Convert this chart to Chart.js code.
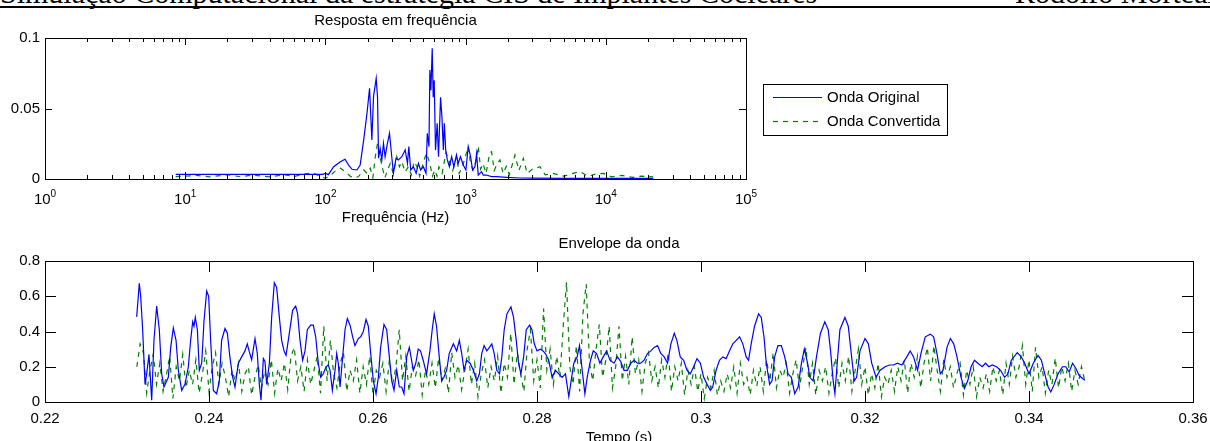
<!DOCTYPE html>
<html>
<head>
<meta charset="utf-8">
<script src="https://cdn.jsdelivr.net/npm/chart.js@4.4.1/dist/chart.umd.min.js"></script>
<style>
  html, body { margin: 0; padding: 0; background: #fff; }
  body { width: 1210px; height: 441px; position: relative; overflow: hidden; }
  #header { position: absolute; left: 0; top: -24px; width: 1210px; height: 40px;
            font-family: "Liberation Serif", "Times New Roman", serif; font-size: 30px; white-space: nowrap; color: #000; }
  #header .right { position: absolute; left: 1015px; top: 0; }
  #rule { position: absolute; left: 0; top: 6px; width: 1210px; height: 2px; background: #000; }
  #freqCanvas { position: absolute; left: 0; top: 0; }
  #envCanvas { position: absolute; left: 0; top: 230px; }
</style>
</head>
<body>
<div id="header"><span>Simulação Computacional da estratégia CIS de Implantes Cocleares</span><span class="right">Rodolfo Morteal</span></div>
<div id="rule"></div>
<canvas id="freqCanvas" width="1210" height="230"></canvas>
<canvas id="envCanvas" width="1210" height="220"></canvas>
<script>
// ---- Resposta em frequência ----
const freqDecades = [1, 10, 100, 1000, 10000, 100000];
const freqYTicks = [0, 0.05, 0.1];

const originalHz = [8.55, 95, 100, 105, 114.6, 127.8, 138, 146.4, 154.8, 168, 177, 187.6, 198, 206.5, 214.5, 220.4,
  230.3, 235.4, 239.4, 245.8, 252.6, 259.5, 266.6, 277, 286.6, 297.4, 305.6, 319, 331, 351, 370.8, 385, 393.6,
  406, 424.6, 443.8, 460.5, 478, 499.6, 522, 533, 548, 556, 565.5, 578, 587.5, 597, 610, 627, 641, 663, 678,
  694, 705, 721, 741, 766, 795, 825, 861, 885, 919, 962, 1005, 1044, 1085, 1121, 1166, 1198, 1231, 1299, 1337,
  1409, 1528, 1657, 1960, 2440, 3000, 5000, 10000, 21800];
const originalAmp = [0.0033, 0.0033, 0.004, 0.0031, 0.0087, 0.0123, 0.014, 0.0099, 0.0069, 0.0064, 0.0099, 0.0277,
  0.0466, 0.0643, 0.0277, 0.0584, 0.0714, 0.058, 0.0147, 0.0217, 0.0135, 0.0253, 0.0158, 0.0253, 0.0324, 0.0158,
  0.004, 0.0147, 0.0135, 0.0158, 0.0206, 0.011, 0.023, 0.0064, 0.0087, 0.004, 0.011, 0.0064, 0.0087, 0.004, 0.0324,
  0.023, 0.0773, 0.063, 0.0927, 0.058, 0.070, 0.0206, 0.0395, 0.0158, 0.058, 0.044, 0.0206, 0.0395, 0.0206, 0.0135,
  0.0087, 0.0158, 0.0087, 0.017, 0.011, 0.0158, 0.0099, 0.0064, 0.023, 0.0158, 0.0064, 0.0087, 0.018, 0.0028,
  0.0052, 0.0028, 0.0028, 0.0017, 0.0017, 0.0012, 0.0007, 0.0006, 0.0005, 0.0004, 0.0004];

const convertedHz = [8.55, 12, 15, 20, 25, 30, 40, 50, 60, 70, 82, 90, 100, 110, 120, 128, 138, 152, 162, 172, 188,
  198, 209, 218, 227, 235, 242, 257, 266, 277, 290, 305, 323, 337, 351, 370, 391, 410, 429, 450, 470, 505, 527, 556,
  580, 604, 625, 645, 680, 724, 774, 810, 861, 900, 950, 1044, 1085, 1130, 1197, 1231, 1280, 1330, 1400, 1485, 1532,
  1600, 1680, 1758, 1850, 1950, 2050, 2150, 2250, 2400, 2580, 2750, 3000, 3390, 3700, 4200, 5000, 5600, 6540, 7500,
  8500, 9600, 11000, 13000, 15500, 18000, 21800];
const convertedAmp = [0.0017, 0.0025, 0.0015, 0.003, 0.0015, 0.0028, 0.0015, 0.003, 0.0018, 0.0035, 0.0045, 0.002,
  0.0005, 0.003, 0.0065, 0.0076, 0.0052, 0.0017, 0.0008, 0.0017, 0.0064, 0.004, 0.0076, 0.001, 0.0158, 0.025, 0.0182,
  0.0064, 0.001, 0.0064, 0.011, 0.004, 0.0158, 0.0087, 0.0123, 0.005, 0.0087, 0.003, 0.0123, 0.0087, 0.002, 0.0135,
  0.0182, 0.011, 0.002, 0.0064, 0.002, 0.0087, 0.004, 0.0186, 0.011, 0.006, 0.0158, 0.004, 0.0087, 0.023, 0.011,
  0.0064, 0.0135, 0.0234, 0.007, 0.011, 0.004, 0.0182, 0.0194, 0.006, 0.011, 0.0135, 0.004, 0.009, 0.003, 0.010,
  0.017, 0.006, 0.0147, 0.004, 0.007, 0.0087, 0.003, 0.004, 0.002, 0.0035, 0.0052, 0.002, 0.0035, 0.004, 0.0015,
  0.0025, 0.0012, 0.002, 0.0015];

// ---- Envelope da onda ----
const envXTicks = [0.22, 0.24, 0.26, 0.28, 0.3, 0.32, 0.34, 0.36];
const envYTicks = [0, 0.2, 0.4, 0.6, 0.8];

const originalTime = [0.23118, 0.23150, 0.23167, 0.23191, 0.23220, 0.23240, 0.23268, 0.23301, 0.23329, 0.23362,
  0.23394, 0.23423, 0.23451, 0.23504, 0.23533, 0.23565, 0.23598, 0.23626, 0.23667, 0.23707, 0.23748, 0.23776,
  0.23801, 0.23817, 0.23833, 0.23858, 0.23882, 0.23911, 0.23939, 0.23972, 0.23996, 0.24020, 0.24053, 0.24093,
  0.24126, 0.24154, 0.24195, 0.24224, 0.24256, 0.24289, 0.24317, 0.24358, 0.24398, 0.24439, 0.24467, 0.24492,
  0.24520, 0.24561, 0.24589, 0.24614, 0.24634, 0.24663, 0.24683, 0.24703, 0.24736, 0.24764, 0.24797, 0.24825,
  0.24858, 0.24886, 0.24915, 0.24939, 0.24967, 0.25020, 0.25057, 0.25081, 0.25110, 0.25142, 0.25171, 0.25199,
  0.25240, 0.25272, 0.25301, 0.25333, 0.25362, 0.25394, 0.25427, 0.25455, 0.25476, 0.25504, 0.25537, 0.25557,
  0.25577, 0.25598, 0.25630, 0.25659, 0.25687, 0.25720, 0.25752, 0.25780, 0.25821, 0.25850, 0.25882, 0.25915,
  0.25943, 0.25972, 0.26004, 0.26037, 0.26065, 0.26093, 0.26134, 0.26167, 0.26199, 0.26228, 0.26256, 0.26289,
  0.26321, 0.26350, 0.26378, 0.26411, 0.26443, 0.26492,
  0.26522, 0.26551, 0.26579, 0.26612, 0.26653, 0.26694, 0.26722, 0.26747, 0.26775, 0.26808, 0.26837, 0.26865,
  0.26898, 0.26930, 0.26980, 0.27020, 0.27053, 0.27082, 0.27110, 0.27143, 0.27184, 0.27224, 0.27265, 0.27298,
  0.27326, 0.27355, 0.27388, 0.27420, 0.27449, 0.27478, 0.27510, 0.27543, 0.27571, 0.27600, 0.27633, 0.27682,
  0.27714, 0.27747, 0.27775, 0.27804, 0.27837, 0.27869, 0.27910, 0.27939, 0.27967, 0.28000, 0.28041, 0.28073,
  0.28102, 0.28143, 0.28184, 0.28225, 0.28265, 0.28306, 0.28347, 0.28388, 0.28416, 0.28449, 0.28490, 0.28518,
  0.28551, 0.28584, 0.28612, 0.28653, 0.28686, 0.28727, 0.28767, 0.28808, 0.28849, 0.28890, 0.28939, 0.28980,
  0.29021, 0.29061, 0.29102, 0.29143, 0.29184, 0.29225, 0.29265, 0.29306, 0.29347, 0.29388, 0.29429, 0.29470,
  0.29510, 0.29551, 0.29592, 0.29633, 0.29674, 0.29706, 0.29747, 0.29788, 0.29829, 0.29870, 0.29910, 0.29951,
  0.29992, 0.30033, 0.30074, 0.30114, 0.30143, 0.30184, 0.30225, 0.30266, 0.30306, 0.30347, 0.30388, 0.30429,
  0.30470, 0.30510, 0.30551, 0.30580, 0.30612, 0.30653, 0.30702, 0.30735, 0.30768, 0.30796, 0.30837, 0.30866,
  0.30898, 0.30939, 0.30980, 0.31021, 0.31062, 0.31102, 0.31143, 0.31184, 0.31225, 0.31260, 0.31300,
  0.31327, 0.31367, 0.31408, 0.31457, 0.31510, 0.31551, 0.31580, 0.31612, 0.31633, 0.31661, 0.31694, 0.31755,
  0.31796, 0.31837, 0.31869, 0.31898, 0.31939, 0.32000, 0.32041, 0.32082, 0.32135, 0.32184, 0.32245, 0.32298,
  0.32347, 0.32396, 0.32449, 0.32510, 0.32551, 0.32592, 0.32641, 0.32682, 0.32735, 0.32796, 0.32837, 0.32878,
  0.32918, 0.32951, 0.33000, 0.33041, 0.33082, 0.33122, 0.33171, 0.33212, 0.33253, 0.33294, 0.33335, 0.33376,
  0.33429, 0.33470, 0.33510, 0.33551, 0.33604, 0.33653, 0.33702, 0.33743, 0.33784, 0.33857, 0.33906, 0.33947,
  0.34000, 0.34053, 0.34110, 0.34151, 0.34192, 0.34233, 0.34266, 0.34307, 0.34355, 0.34408, 0.34449, 0.34490,
  0.34531, 0.34572, 0.34612, 0.34653, 0.34682];
const originalEnv = [0.483, 0.673, 0.60, 0.41, 0.10, 0.16, 0.27, 0.01, 0.35, 0.544,
  0.41, 0.16, 0.085, 0.14, 0.31, 0.42, 0.35, 0.18, 0.066, 0.10, 0.20, 0.35,
  0.455, 0.43, 0.48, 0.41, 0.18, 0.22, 0.46, 0.63, 0.60, 0.35, 0.066, 0.047,
  0.12, 0.35, 0.417, 0.39, 0.25, 0.14, 0.085, 0.22, 0.256, 0.29, 0.33, 0.284,
  0.24, 0.36, 0.275, 0.10, 0.01, 0.246, 0.23, 0.10, 0.22, 0.48, 0.677, 0.65,
  0.48, 0.35, 0.29, 0.265, 0.35, 0.52, 0.544, 0.50, 0.35, 0.237, 0.29, 0.41,
  0.436, 0.436, 0.37, 0.22, 0.14, 0.16, 0.20, 0.21, 0.18, 0.066, 0.18, 0.275,
  0.22, 0.085, 0.256, 0.41, 0.474, 0.436, 0.37, 0.32, 0.36, 0.37, 0.40, 0.468,
  0.43, 0.275, 0.12, 0.047, 0.14, 0.31, 0.44, 0.41, 0.256, 0.12, 0.066, 0.18,
  0.085, 0.085, 0.047, 0.256, 0.31, 0.18,
  0.22, 0.30, 0.29, 0.237, 0.16, 0.29, 0.41, 0.50, 0.43, 0.256, 0.12, 0.14,
  0.18, 0.275, 0.33, 0.29, 0.35, 0.275, 0.18, 0.237, 0.22, 0.18, 0.12, 0.16,
  0.275, 0.32, 0.29, 0.31, 0.33, 0.275, 0.18, 0.16, 0.256, 0.41, 0.50, 0.54,
  0.48, 0.35, 0.22, 0.16, 0.256, 0.41, 0.436, 0.41, 0.33, 0.29, 0.30, 0.29,
  0.275, 0.237, 0.14, 0.18, 0.16, 0.14, 0.16, 0.03, 0.12, 0.22, 0.256, 0.32,
  0.18, 0.047, 0.14, 0.237, 0.29, 0.275, 0.22, 0.256, 0.29, 0.237, 0.22, 0.256,
  0.23, 0.18, 0.18, 0.22, 0.237, 0.22, 0.22, 0.237, 0.275, 0.29, 0.31, 0.32,
  0.275, 0.256, 0.22, 0.33, 0.39, 0.35, 0.256, 0.237, 0.18, 0.16, 0.20, 0.246,
  0.22, 0.14, 0.10, 0.066, 0.085, 0.18, 0.237, 0.256, 0.246, 0.29, 0.33, 0.35,
  0.37, 0.33, 0.256, 0.237, 0.33, 0.43, 0.50, 0.48, 0.37, 0.22, 0.10, 0.12,
  0.256, 0.32, 0.32, 0.256, 0.16, 0.14, 0.047, 0.085, 0.22, 0.30, 0.22,
  0.14, 0.12, 0.256, 0.39, 0.455, 0.41, 0.29, 0.12, 0.047, 0.22, 0.41, 0.48,
  0.43, 0.256, 0.12, 0.14, 0.29, 0.36, 0.33, 0.22, 0.14, 0.18, 0.20, 0.21,
  0.21, 0.22, 0.21, 0.256, 0.29, 0.256, 0.18, 0.275, 0.37, 0.385, 0.37, 0.275,
  0.16, 0.18, 0.31, 0.36, 0.33, 0.256, 0.14, 0.076, 0.12, 0.20, 0.237, 0.22,
  0.20, 0.22, 0.20, 0.21, 0.20, 0.18, 0.14, 0.16, 0.237, 0.28, 0.256, 0.22,
  0.16, 0.22, 0.265, 0.237, 0.16, 0.085, 0.057, 0.10, 0.16, 0.20, 0.20, 0.17,
  0.22, 0.19, 0.15, 0.133, 0.123];

// converted envelope sampled every 0.4 ms from 0.2312 s
const convertedStart = 0.2312;
const convertedStep = 0.0004;
const convertedEnv = [
  0.20, 0.33, 0.28, 0.05, 0.18, 0.27, 0.10, 0.22, 0.06, 0.15,
  0.26, 0.02, 0.20, 0.12, 0.27, 0.08, 0.18, 0.10, 0.24, 0.05,
  0.16, 0.29, 0.06, 0.20, 0.28, 0.10, 0.22, 0.14, 0.03, 0.18,
  0.12, 0.22, 0.06, 0.16, 0.20, 0.04, 0.14, 0.21, 0.08, 0.18,
  0.10, 0.24, 0.05, 0.19, 0.12, 0.22, 0.07, 0.26, 0.31, 0.12,
  0.20, 0.06, 0.24, 0.10, 0.18, 0.26, 0.05, 0.43, 0.12, 0.35,
  0.16, 0.08, 0.22, 0.28, 0.06, 0.18, 0.12, 0.24, 0.05, 0.20,
  0.10, 0.26, 0.04, 0.18, 0.14, 0.22, 0.06, 0.24, 0.10, 0.20,
  0.41, 0.12, 0.26, 0.06, 0.20, 0.15, 0.24, 0.04, 0.18, 0.10,
  0.22, 0.08, 0.25, 0.12, 0.19, 0.05, 0.28, 0.14, 0.21, 0.07,
  0.18, 0.30, 0.10, 0.22, 0.03, 0.16, 0.24, 0.08, 0.20, 0.12,
  0.26, 0.05, 0.22, 0.14, 0.39, 0.10, 0.28, 0.16, 0.06, 0.30,
  0.41, 0.12, 0.24, 0.08, 0.53, 0.18, 0.30, 0.10, 0.26, 0.14,
  0.43, 0.68, 0.20, 0.10, 0.32, 0.06, 0.50, 0.67, 0.22, 0.12,
  0.30, 0.44, 0.14, 0.24, 0.43, 0.08, 0.20, 0.43, 0.12, 0.26,
  0.10, 0.37, 0.16, 0.24, 0.06, 0.22, 0.28, 0.12, 0.20, 0.08,
  0.24, 0.14, 0.28, 0.06, 0.20, 0.12, 0.22, 0.04, 0.18, 0.10,
  0.20, 0.06, 0.16, 0.02, 0.14, 0.08, 0.18, 0.04, 0.12, 0.06,
  0.16, 0.08, 0.20, 0.05, 0.22, 0.10, 0.14, 0.04, 0.18, 0.09,
  0.20, 0.06, 0.24, 0.12, 0.28, 0.08, 0.18, 0.14, 0.22, 0.05,
  0.16, 0.24, 0.08, 0.20, 0.31, 0.10, 0.22, 0.04, 0.18, 0.12,
  0.20, 0.05, 0.16, 0.25, 0.08, 0.22, 0.12, 0.26, 0.06, 0.18,
  0.30, 0.10, 0.20, 0.04, 0.16, 0.08, 0.22, 0.03, 0.14, 0.10,
  0.18, 0.06, 0.20, 0.12, 0.24, 0.05, 0.22, 0.14, 0.26, 0.08,
  0.22, 0.31, 0.12, 0.32, 0.18, 0.06, 0.24, 0.14, 0.20, 0.08,
  0.16, 0.22, 0.04, 0.18, 0.10, 0.20, 0.03, 0.14, 0.08, 0.16,
  0.06, 0.20, 0.12, 0.18, 0.04, 0.22, 0.10, 0.26, 0.14, 0.20,
  0.32, 0.10, 0.24, 0.06, 0.31, 0.14, 0.20, 0.05, 0.18, 0.10,
  0.25, 0.08, 0.20, 0.12, 0.22, 0.06, 0.18, 0.10, 0.20, 0.12];

const SANS = '"Liberation Sans", Arial, Helvetica, sans-serif';
Chart.defaults.font.family = SANS;
Chart.defaults.color = '#000';

const BLUE = '#0000ff';
const GREEN = '#008000';
const DASH = [5, 5];
const LINE_W = 1.2;

function pairs(xs, ys) {
    return xs.map((x, i) => ({ x: x, y: ys[i] }));
}

function plainNumber(v) {
    return String(+v.toFixed(4));
}

// box with inward ticks on all four sides (MATLAB style)
const frameBox = {
    id: 'frameBox',
    afterDatasetsDraw(chart, args, opts) {
        const { ctx, chartArea, scales } = chart;
        const { left, right, top, bottom } = chartArea;
        ctx.save();
        ctx.strokeStyle = '#000';
        ctx.lineWidth = 1;
        ctx.beginPath();
        const xTick = (v, len) => {
            const px = Math.round(scales.x.getPixelForValue(v)) + 0.5;
            ctx.moveTo(px, bottom); ctx.lineTo(px, bottom - len);
            ctx.moveTo(px, top); ctx.lineTo(px, top + len);
        };
        const yTick = (v, len) => {
            const py = Math.round(scales.y.getPixelForValue(v)) + 0.5;
            ctx.moveTo(left, py); ctx.lineTo(left + len, py);
            ctx.moveTo(right, py); ctx.lineTo(right - len, py);
        };
        opts.xMajor.forEach(v => xTick(v, opts.len));
        (opts.xMinor || []).forEach(v => xTick(v, opts.minorLen));
        opts.yMajor.forEach(v => yTick(v, opts.len));
        ctx.stroke();
        ctx.strokeRect(Math.round(left) + 0.5, Math.round(top) + 0.5,
            Math.round(right - left), Math.round(bottom - top));
        ctx.restore();
    }
};

// 10^n labels under the log axis
const powerLabels = {
    id: 'powerLabels',
    afterDraw(chart, args, opts) {
        if (!opts.values) return;
        const { ctx, scales } = chart;
        const base = chart.chartArea.bottom + opts.offset;
        ctx.save();
        ctx.fillStyle = '#000';
        ctx.textBaseline = 'alphabetic';
        opts.values.forEach(v => {
            const exp = String(Math.round(Math.log10(v)));
            const px = scales.x.getPixelForValue(v);
            ctx.font = '15px ' + SANS;
            const wBase = ctx.measureText('10').width;
            ctx.font = '10px ' + SANS;
            const wExp = ctx.measureText(exp).width;
            const x0 = px - (wBase + wExp) / 2;
            ctx.font = '15px ' + SANS;
            ctx.fillText('10', x0, base);
            ctx.font = '10px ' + SANS;
            ctx.fillText(exp, x0 + wBase, base - 7);
        });
        ctx.restore();
    }
};

// boxed legend to the right of the plot
const sideLegend = {
    id: 'sideLegend',
    afterDraw(chart, args, opts) {
        if (!opts.box) return;
        const { ctx } = chart;
        const b = opts.box;
        ctx.save();
        ctx.fillStyle = '#fff';
        ctx.fillRect(b.x, b.y, b.w, b.h);
        ctx.strokeStyle = '#000';
        ctx.lineWidth = 1;
        ctx.strokeRect(b.x + 0.5, b.y + 0.5, b.w, b.h);
        ctx.font = '15px ' + SANS;
        ctx.textBaseline = 'middle';
        chart.data.datasets.forEach((ds, i) => {
            const y = b.y + opts.firstRow + i * opts.rowGap + 0.5;
            ctx.beginPath();
            ctx.strokeStyle = ds.borderColor;
            ctx.lineWidth = ds.borderWidth;
            ctx.setLineDash(ds.borderDash || []);
            ctx.moveTo(b.x + 10, y);
            ctx.lineTo(b.x + 59, y);
            ctx.stroke();
            ctx.setLineDash([]);
            ctx.fillStyle = '#000';
            ctx.fillText(ds.label, b.x + 64, y);
        });
        ctx.restore();
    }
};

const minorHz = [];
freqDecades.slice(0, -1).forEach(d => {
    for (let k = 2; k <= 9; k++) minorHz.push(d * k);
});

// keep the plot box where it is, labels may hang into the margin
function noEdgePadding(s) {
    s.paddingLeft = 0;
    s.paddingRight = 0;
}

new Chart(document.getElementById('freqCanvas'), {
    type: 'line',
    data: {
        datasets: [{
            label: 'Onda Original',
            data: pairs(originalHz, originalAmp),
            borderColor: BLUE,
            borderWidth: LINE_W,
            pointRadius: 0,
            tension: 0
        }, {
            label: 'Onda Convertida',
            data: pairs(convertedHz, convertedAmp),
            borderColor: GREEN,
            borderWidth: LINE_W,
            borderDash: DASH,
            pointRadius: 0,
            tension: 0
        }]
    },
    options: {
        responsive: false,
        animation: false,
        events: [],
        layout: { padding: { left: 0, right: 464, top: 0, bottom: 3 } },
        plugins: {
            legend: { display: false },
            tooltip: { enabled: false },
            title: {
                display: true,
                text: 'Resposta em frequência',
                fullSize: false,
                color: '#000',
                font: { size: 15, weight: 'normal' },
                padding: { top: 12, bottom: 8 }
            },
            frameBox: { xMajor: freqDecades, xMinor: minorHz, yMajor: freqYTicks, len: 7, minorLen: 4 },
            powerLabels: { values: freqDecades, offset: 25 },
            sideLegend: { box: { x: 763, y: 84, w: 184, h: 51 }, firstRow: 13, rowGap: 24 }
        },
        scales: {
            x: {
                type: 'logarithmic',
                min: 1,
                max: 100000,
                grid: { display: false, drawTicks: false },
                border: { display: false },
                ticks: { display: false },
                title: { display: true, text: 'Frequência (Hz)', font: { size: 15 }, padding: { top: 0, bottom: 0 } },
                afterFit: s => { s.height = 48; noEdgePadding(s); }
            },
            y: {
                min: 0,
                max: 0.1,
                afterBuildTicks: s => { s.ticks = freqYTicks.map(v => ({ value: v })); },
                grid: { display: false, drawTicks: false },
                border: { display: false },
                ticks: { font: { size: 15 }, padding: 5, callback: plainNumber },
                afterFit: s => { s.width = 45; }
            }
        }
    },
    plugins: [frameBox, powerLabels, sideLegend]
});

new Chart(document.getElementById('envCanvas'), {
    type: 'line',
    data: {
        datasets: [{
            label: 'Onda Original',
            data: pairs(originalTime, originalEnv),
            borderColor: BLUE,
            borderWidth: LINE_W,
            pointRadius: 0,
            tension: 0
        }, {
            label: 'Onda Convertida',
            data: convertedEnv.map((v, i) => ({ x: convertedStart + i * convertedStep, y: v })),
            borderColor: GREEN,
            borderWidth: LINE_W,
            borderDash: DASH,
            pointRadius: 0,
            tension: 0
        }]
    },
    options: {
        responsive: false,
        animation: false,
        events: [],
        layout: { padding: { left: 0, right: 17, top: 0, bottom: 3 } },
        plugins: {
            legend: { display: false },
            tooltip: { enabled: false },
            title: {
                display: true,
                text: 'Envelope da onda',
                fullSize: false,
                color: '#000',
                font: { size: 15, weight: 'normal' },
                padding: { top: 4.5, bottom: 8.5 }
            },
            frameBox: { xMajor: envXTicks, yMajor: envYTicks, len: 11 }
        },
        scales: {
            x: {
                type: 'linear',
                min: 0.22,
                max: 0.36,
                afterBuildTicks: s => { s.ticks = envXTicks.map(v => ({ value: v })); },
                grid: { display: false, drawTicks: false },
                border: { display: false },
                ticks: { font: { size: 15 }, padding: 8, maxRotation: 0, autoSkip: false, callback: plainNumber },
                title: { display: true, text: 'Tempo (s)', font: { size: 15 }, padding: { top: 0, bottom: 0 } },
                afterFit: s => { s.height = 45; noEdgePadding(s); }
            },
            y: {
                min: 0,
                max: 0.8,
                afterBuildTicks: s => { s.ticks = envYTicks.map(v => ({ value: v })); },
                grid: { display: false, drawTicks: false },
                border: { display: false },
                ticks: { font: { size: 15 }, padding: 5, callback: plainNumber },
                afterFit: s => { s.width = 45; }
            }
        }
    },
    plugins: [frameBox]
});
</script>
</body>
</html>
